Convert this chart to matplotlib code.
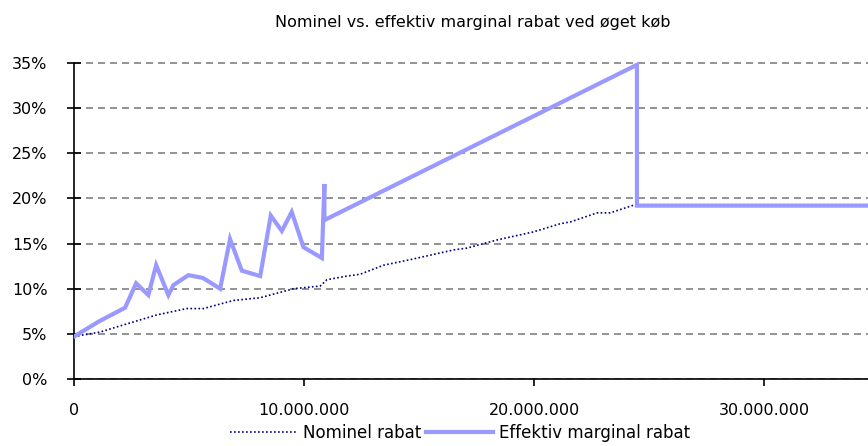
import matplotlib
matplotlib.use("Agg")
import matplotlib.pyplot as plt
from matplotlib.ticker import FuncFormatter

# Data (x in kroner, y in percent)
nominal_x_mio = [0, 1.13, 2.29, 3.6, 4.9, 5.62, 6.93, 8.09, 9.54, 10.7, 10.99, 11.86, 12.43,
                 13.45, 14.75, 16.5, 17.07, 18.38, 19.97, 21.13, 21.57, 22.73, 23.3, 24.25,
                 24.45, 34.5]
nominal_y = [4.7, 5.2, 6.1, 7.1, 7.8, 7.8, 8.7, 9.0, 10.0, 10.3, 11.0, 11.4, 11.6,
             12.6, 13.3, 14.3, 14.5, 15.4, 16.3, 17.2, 17.4, 18.4, 18.4, 19.2,
             19.3, 19.3]

effektiv_x_mio = [0, 1.1, 2.22, 2.70, 3.23, 3.57, 4.10, 4.32, 4.97, 5.6, 6.35, 6.78, 7.29,
                  8.09, 8.55, 9.03, 9.46, 9.97, 10.77, 10.88, 10.88, 24.46, 24.46, 34.5]
effektiv_y = [4.7, 6.4, 7.9, 10.6, 9.3, 12.6, 9.3, 10.4, 11.5, 11.2, 10.0, 15.5, 12.0,
              11.4, 18.1, 16.4, 18.5, 14.6, 13.4, 21.6, 17.6, 34.8, 19.2, 19.2]

title = "Nominel vs. effektiv marginal rabat ved øget køb"
series_names = ["Nominel rabat", "Effektiv marginal rabat"]
x_ticks_mio = [0, 10, 20, 30]
y_ticks = [0, 5, 10, 15, 20, 25, 30, 35]

nominal_x = [v * 1e6 for v in nominal_x_mio]
effektiv_x = [v * 1e6 for v in effektiv_x_mio]

plt.rcParams['font.family'] = ['DejaVu Sans']

fig = plt.figure(figsize=(8.68, 4.46), dpi=100)
y_top = 35.4
px_per_pct = (379 - 63) / 35
ax_h_px = px_per_pct * y_top
ax = fig.add_axes([74 / 868, 67 / 446, 1 - 74 / 868, ax_h_px / 446])

ax.plot(nominal_x, nominal_y, color="#000080", linestyle=(0, (1, 1.4)), linewidth=1.2,
        label=series_names[0], zorder=3)
ax.plot(effektiv_x, effektiv_y, color="#9999FF", linewidth=3.0, label=series_names[1],
        zorder=4, solid_joinstyle="miter")

ax.set_xlim(0, 34.5e6)
ax.set_ylim(0, y_top)
ax.set_xticks([v * 1e6 for v in x_ticks_mio])
ax.set_yticks(y_ticks)
ax.xaxis.set_major_formatter(FuncFormatter(lambda v, p: f"{int(round(v)):,}".replace(",", ".")))
ax.yaxis.set_major_formatter(FuncFormatter(lambda v, p: f"{int(round(v))}%"))

ax.yaxis.grid(True, color="#808080", linestyle=(0, (4.2, 3)), linewidth=1.2)
ax.set_axisbelow(True)
for s in ["top", "right"]:
    ax.spines[s].set_visible(False)
for s in ["left", "bottom"]:
    ax.spines[s].set_linewidth(1.2)
    ax.spines[s].set_color("black")
ax.spines["left"].set_bounds(0, 35)

ax.tick_params(axis="x", direction="out", length=5, width=1.2, pad=12, labelsize=11.5)
ax.tick_params(axis="y", direction="inout", length=10, width=1.2, pad=14, labelsize=11.5)

fig.text(0.545, 1 - 22.5 / 446, title, ha="center", va="center", fontsize=11.5)

fig.legend(loc="center", bbox_to_anchor=(0.53, 13 / 446), ncol=2, frameon=False,
           fontsize=12, handlelength=4.0, handletextpad=0.4, columnspacing=0.3,
           borderaxespad=0, borderpad=0)

fig.savefig("out.png", dpi=100)
